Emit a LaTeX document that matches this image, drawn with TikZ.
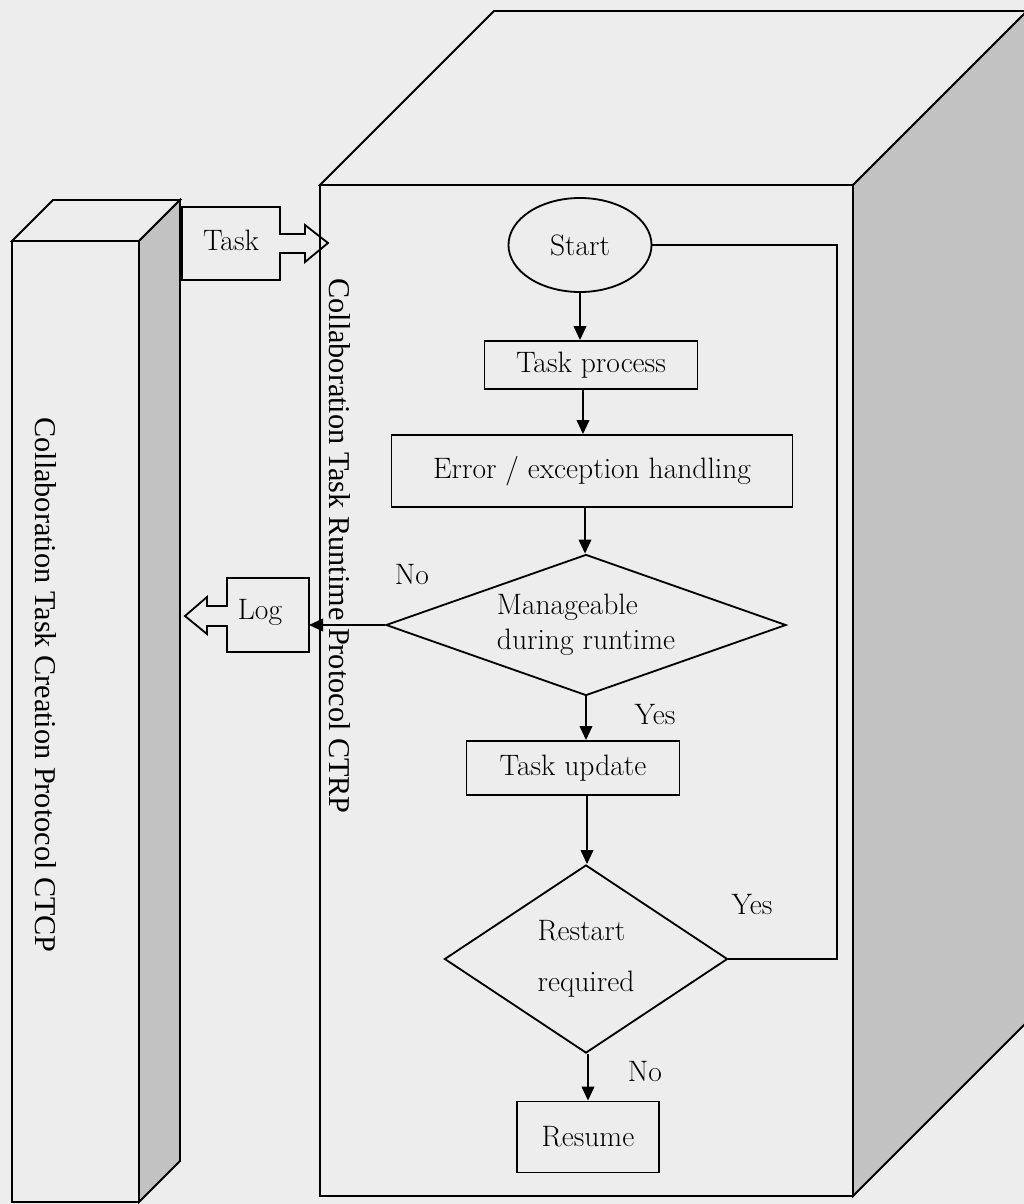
\documentclass[tikz,border=0pt]{standalone}
\usepackage{fontspec}
\newfontfamily\sidefont{Liberation Serif}
\usetikzlibrary{shapes.geometric,arrows.meta}

\definecolor{paper}{RGB}{237,237,237}
\definecolor{shade}{RGB}{194,194,194}

\begin{document}
\begin{tikzpicture}[x=0.025cm,y=-0.025cm,
        line width=1.3pt,
        flowtext/.style={font=\fontsize{21}{25}\selectfont},
        procbox/.style={draw,rectangle,inner sep=0,flowtext},
        decision/.style={draw,diamond,inner sep=0,flowtext,align=left},
        flowarrow/.style={-{Triangle[length=10pt,width=9pt]}},
        sidetext/.style={rotate=-90,font=\sidefont\fontsize{21.5}{26}\selectfont}]

        \useasboundingbox (0,0) rectangle (1024,1204);
        \fill[paper] (0,0) rectangle (1024,1204);

        % Blocks
        \filldraw[fill=paper] (320,185) -- (494,11) -- (1027,11) -- (853,185) -- cycle;
        \filldraw[fill=shade] (853,185) -- (1027,11) -- (1027,1022) -- (853,1196) -- cycle;
        \draw (320,185) rectangle (853,1196);

        \filldraw[fill=paper] (12,241) -- (53,200) -- (180,200) -- (139,241) -- cycle;
        \filldraw[fill=shade] (139,241) -- (180,200) -- (180,1161) -- (139,1202) -- cycle;
        \draw (12,241) rectangle (139,1202);

        \node[sidetext] (ctcp) at (46,685) {Collaboration Task Creation Protocol CTCP};
        \node[sidetext] (ctrp) at (340,546) {Collaboration Task Runtime Protocol CTRP};

        % Callouts
        \draw (182,207) -- (280,207) -- (280,234) -- (305,234) -- (305,225) -- (328,243)
            -- (305,262) -- (305,253) -- (280,253) -- (280,280) -- (182,280) -- cycle;
        \node[flowtext] (task) at (231,240) {Task};

        \draw (309,578) -- (227,578) -- (227,606) -- (207,606) -- (207,597) -- (185,616)
            -- (207,634) -- (207,626) -- (227,626) -- (227,652) -- (309,652) -- cycle;
        \node[flowtext] (log) at (260,612) {Log};
        \coordinate (logtip) at (309,625);

        % Steps
        \node[draw,ellipse,inner sep=0,minimum width=3.575cm,minimum height=2.35cm,flowtext] (start) at (580,245) {Start};
        \node[procbox,minimum width=5.325cm,minimum height=1.2cm] (proc) at (591,365) {Task process};
        \node[procbox,minimum width=10.025cm,minimum height=1.8cm] (err) at (592,471) {Error / exception handling};
        \node[decision,aspect=2.84,minimum width=10cm,minimum height=3.525cm] (mng) at (586,625) {Manageable\\during runtime};
        \node[procbox,minimum width=5.325cm,minimum height=1.35cm] (upd) at (573,768) {Task update};
        \node[decision,aspect=1.5,minimum width=7.075cm,minimum height=4.7cm] (rst) at (586,959) {Restart\\[11pt]required};
        \node[procbox,minimum width=3.55cm,minimum height=1.775cm] (res) at (588,1137) {Resume};

        % Connectors
        \foreach \a/\b/\x in {start/proc/580, proc/err/583, err/mng/585, mng/upd/586, upd/rst/587, rst/res/588} {
            \draw[flowarrow] (\a.south -| \x,0) -- (\b.north -| \x,0);
        }
        \draw[flowarrow] (mng.west) -- (logtip);

        \coordinate (loop) at (837,245);
        \draw (rst.east) -| (loop) -- (start.east);

        % Labels
        \node[flowtext] (no1) at (412,575) {No};
        \node[flowtext] (yes1) at (655,715) {Yes};
        \node[flowtext] (yes2) at (752,905) {Yes};
        \node[flowtext] (no2) at (645,1072) {No};
\end{tikzpicture}
\end{document}
